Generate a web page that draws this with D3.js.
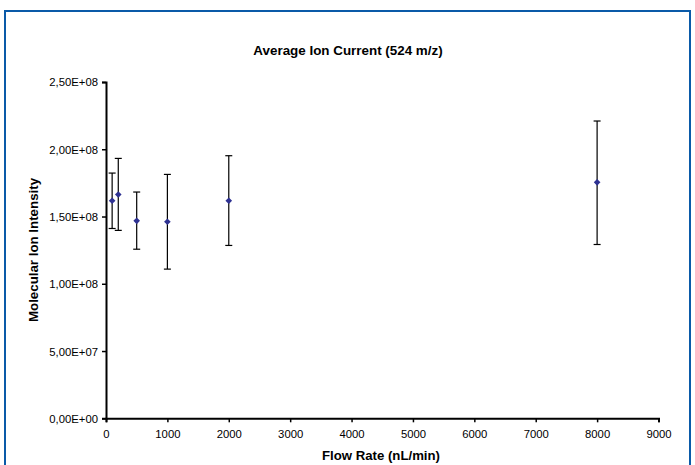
<!DOCTYPE html>
<html><head><meta charset="utf-8">
<script src="https://cdn.jsdelivr.net/npm/d3@7"></script>
<style>body{margin:0;background:#fff}svg{display:block}</style>
</head><body>
<svg id="c" width="695" height="465"></svg>
<script>
const flowRates = [100, 200, 500, 1000, 2000, 8000];
const meanIntensity = [1.617e8, 1.664e8, 1.468e8, 1.461e8, 1.617e8, 1.754e8];
const errUpper = [1.823e8, 1.932e8, 1.682e8, 1.813e8, 1.952e8, 2.21e8];
const errLower = [1.411e8, 1.397e8, 1.257e8, 1.109e8, 1.285e8, 1.292e8];
const xTicks = [0,1000,2000,3000,4000,5000,6000,7000,8000,9000];
const yTicks = [0, 5e7, 1e8, 1.5e8, 2e8, 2.5e8];
const yTickLabels = ["0,00E+00","5,00E+07","1,00E+08","1,50E+08","2,00E+08","2,50E+08"];

const svg = d3.select("#c");
const font = "Arial, 'Liberation Sans', sans-serif";
svg.append("rect").attr("x",5).attr("y",11).attr("width",685).attr("height",470)
  .attr("fill","none").attr("stroke","#0a5aa8").attr("stroke-width",2);

const x = d3.scaleLinear().domain([0,9000]).range([106,658.5]);
const y = d3.scaleLinear().domain([0,2.5e8]).range([418.3,82]);

const xAxis = d3.axisBottom(x).tickValues(xTicks).tickSize(4).tickFormat(d3.format("d"));
const gx = svg.append("g").attr("transform","translate(0,418.3)").call(xAxis);
const yAxis = d3.axisLeft(y).tickValues(yTicks).tickSize(4).tickFormat((d,i)=>yTickLabels[i]);
const gy = svg.append("g").attr("transform","translate(106,0)").call(yAxis);
[gx,gy].forEach(g=>{
  g.select(".domain").attr("stroke","#000").attr("stroke-width",2);
  g.selectAll(".tick line").attr("stroke","#000").attr("stroke-width",1.5);
  g.selectAll("text").attr("font-family",font).attr("font-size",11.3).attr("fill","#000");
});
gx.selectAll("text").attr("y",20).attr("dy","0");
gy.selectAll("text").attr("x",-8).attr("dy","0.35em");

// titles
svg.append("text").attr("x",348).attr("y",55).attr("text-anchor","middle")
  .attr("font-family",font).attr("font-size",13.4).attr("font-weight","bold").text("Average Ion Current (524 m/z)");
svg.append("text").attr("x",381).attr("y",460).attr("text-anchor","middle")
  .attr("font-family",font).attr("font-size",13.2).attr("font-weight","bold").text("Flow Rate (nL/min)");
svg.append("text").attr("transform","translate(38,250) rotate(-90)").attr("text-anchor","middle")
  .attr("font-family",font).attr("font-size",13.3).attr("font-weight","bold").text("Molecular Ion Intensity");

const data = flowRates.map((f,i)=>({f, m:meanIntensity[i], hi:errUpper[i], lo:errLower[i]}));
const eb = svg.append("g").attr("stroke","#000").attr("stroke-width",1.2);
data.forEach(d=>{
  const cx = x(d.f);
  eb.append("line").attr("x1",cx).attr("x2",cx).attr("y1",y(d.hi)).attr("y2",y(d.lo));
  eb.append("line").attr("x1",cx-3.5).attr("x2",cx+3.5).attr("y1",y(d.hi)).attr("y2",y(d.hi));
  eb.append("line").attr("x1",cx-3.5).attr("x2",cx+3.5).attr("y1",y(d.lo)).attr("y2",y(d.lo));
});
svg.append("g").selectAll("path").data(data).join("path")
  .attr("d", d3.symbol(d3.symbolDiamond2 || d3.symbolSquare, 28))
  .attr("transform", d=>`translate(${x(d.f)},${y(d.m)}) rotate(${d3.symbolDiamond2?0:45})`)
  .attr("fill","#2e3192");
</script>
</body></html>
